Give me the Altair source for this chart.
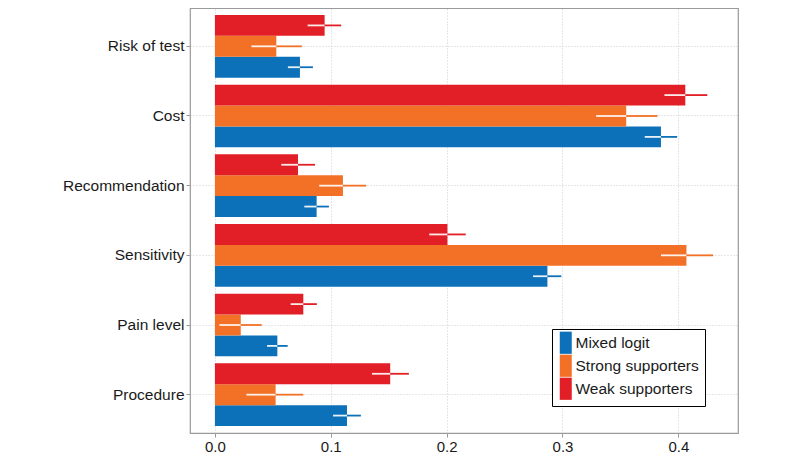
import altair as alt
import pandas as pd

categories = ["Risk of test", "Cost", "Recommendation", "Sensitivity", "Pain level", "Procedure"]
series = ["Mixed logit", "Strong supporters", "Weak supporters"]
colors = ["#0C71B8", "#F27127", "#E21E26"]

mixed_value = [0.0734, 0.385, 0.0878, 0.287, 0.0539, 0.114]
mixed_lo = [0.063, 0.371, 0.0772, 0.2746, 0.045, 0.102]
mixed_hi = [0.0846, 0.399, 0.0984, 0.299, 0.0628, 0.126]

strong_value = [0.053, 0.355, 0.1105, 0.407, 0.0223, 0.0524]
strong_lo = [0.0315, 0.329, 0.090, 0.385, 0.0039, 0.0272]
strong_hi = [0.075, 0.382, 0.1306, 0.430, 0.0404, 0.0763]

weak_value = [0.0947, 0.406, 0.0717, 0.2007, 0.0763, 0.1513]
weak_lo = [0.080, 0.388, 0.0573, 0.185, 0.0654, 0.1355]
weak_hi = [0.109, 0.425, 0.0864, 0.2165, 0.088, 0.1674]

x_ticks = [0.0, 0.1, 0.2, 0.3, 0.4]

rows = []
for s, vals, los, his in [
    ("Mixed logit", mixed_value, mixed_lo, mixed_hi),
    ("Strong supporters", strong_value, strong_lo, strong_hi),
    ("Weak supporters", weak_value, weak_lo, weak_hi),
]:
    for c, v, lo, hi in zip(categories, vals, los, his):
        rows.append({"category": c, "series": s, "value": v, "lo": lo, "hi": hi})
df = pd.DataFrame(rows)

FONT = "Liberation Sans"

y_enc = alt.Y(
    "category:N",
    sort=categories,
    title=None,
    scale=alt.Scale(paddingInner=0.1, paddingOuter=0.1),
    axis=alt.Axis(
        labelFontSize=15.5, labelColor="#1a1a1a", labelFont=FONT,
        tickColor="#999999", tickSize=4, labelPadding=2,
        domain=False, grid=True, gridColor="#cccccc", gridDash=[1, 2],
    ),
)
yoff_enc = alt.YOffset(
    "series:N",
    scale=alt.Scale(domain=["Weak supporters", "Strong supporters", "Mixed logit"],
                    paddingInner=0, paddingOuter=0),
)
x_scale = alt.Scale(domain=[-0.0215, 0.4515], nice=False, zero=False)
x_axis = alt.Axis(
    values=x_ticks, format=".1f", labelFontSize=15, labelColor="#1a1a1a", labelFont=FONT,
    tickColor="#999999", tickSize=4, labelPadding=2, domain=False,
    grid=True, gridColor="#cccccc", gridDash=[1, 2],
)
color_enc = alt.Color(
    "series:N",
    scale=alt.Scale(domain=series, range=colors),
    legend=alt.Legend(
        title=None, orient="none", legendX=362, legendY=321,
        strokeColor="black", fillColor="white", padding=6,
        labelFontSize=15.5, labelFont=FONT, labelColor="#1a1a1a",
        symbolType="M-1,-1.85H1V1.85H-1Z", symbolSize=144, symbolStrokeWidth=0,
        symbolOpacity=1, rowPadding=0, labelOffset=2,
    ),
)

base = alt.Chart(df)

bars = base.mark_bar(opacity=1).encode(
    x=alt.X("value:Q", scale=x_scale, axis=x_axis, title=None),
    y=y_enc,
    yOffset=yoff_enc,
    color=color_enc,
)

err_in = base.mark_rule(color="white", strokeWidth=1.8, opacity=0.9).encode(
    x=alt.X("lo:Q", scale=x_scale),
    x2="value:Q",
    y=alt.Y("category:N", sort=categories),
    yOffset=yoff_enc,
)

err_out = base.mark_rule(strokeWidth=1.8).encode(
    x=alt.X("value:Q", scale=x_scale),
    x2="hi:Q",
    y=alt.Y("category:N", sort=categories),
    yOffset=yoff_enc,
    color=alt.Color("series:N", scale=alt.Scale(domain=series, range=colors), legend=None),
)

chart = (
    alt.layer(bars, err_in, err_out)
    .properties(
        width=548, height=425,
        autosize=alt.AutoSizeParams(type="none"),
        padding={"left": 182, "top": 0, "right": 54, "bottom": 22},
    )
    .configure_view(stroke="#9a9a9a", strokeWidth=1.2)
)

chart.save("out.html", embed_options={"renderer": "svg", "actions": False})
